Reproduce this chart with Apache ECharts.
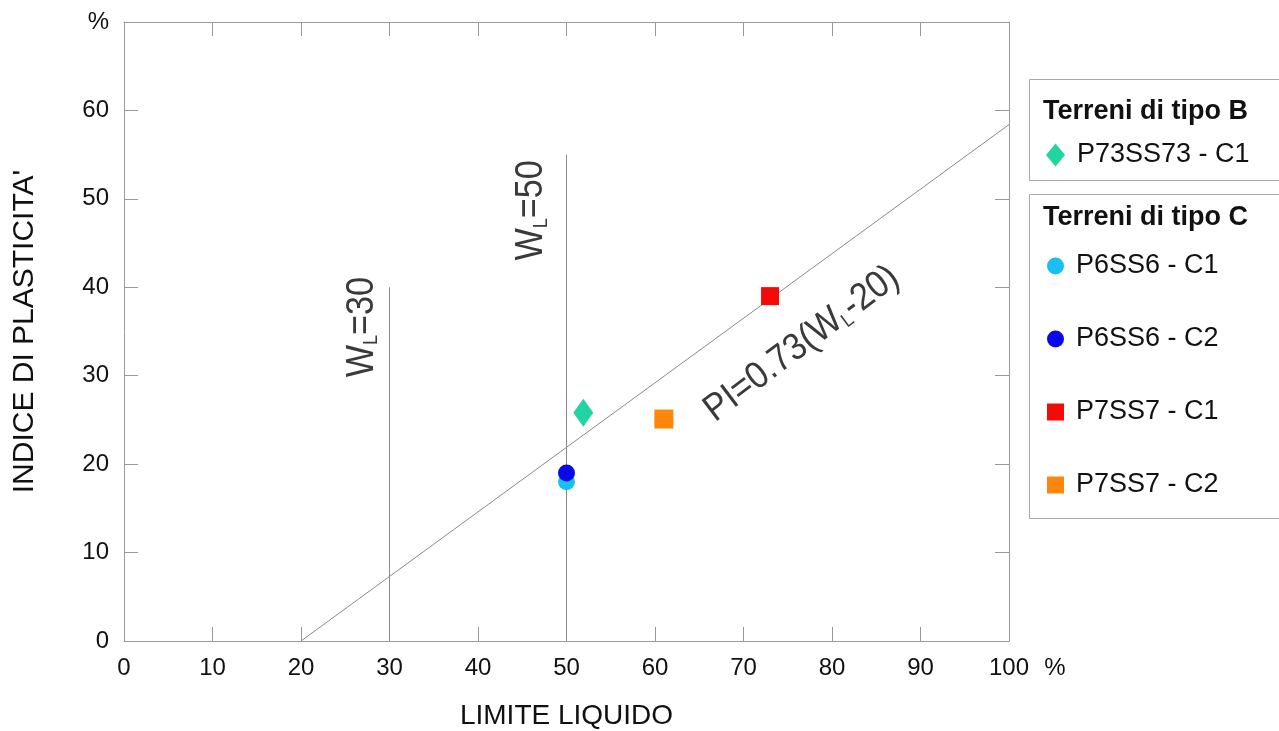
<!DOCTYPE html>
<html>
<head>
<meta charset="utf-8">
<script src="https://cdn.jsdelivr.net/npm/echarts@6/dist/echarts.min.js"></script>
<style>
  html, body { margin: 0; padding: 0; background: #fff; }
  #chart { width: 1279px; height: 731px; }
</style>
</head>
<body>
<div id="chart"></div>
<script>
// Casagrande plasticity chart: liquid limit (WL) vs plasticity index (PI)
const FONT = 'Liberation Sans, Arial, sans-serif';

// Samples
const sampleNames = ['P73SS73 - C1', 'P6SS6 - C1', 'P6SS6 - C2', 'P7SS7 - C1', 'P7SS7 - C2'];
const liquidLimit = [51.9, 50, 50, 73, 61];
const plasticityIndex = [25.8, 18, 19, 39, 25.1];
const sampleSymbols = ['diamond', 'circle', 'circle', 'rect', 'rect'];
const sampleSizes = [[20, 28], 17, 17, 18, 19];
const sampleColors = ['#22D4A2', '#19BFF2', '#0A0AE8', '#F50A0A', '#FF860C'];

// Legend groups
const groupB = ['P73SS73 - C1'];
const groupC = ['P6SS6 - C1', 'P6SS6 - C2', 'P7SS7 - C1', 'P7SS7 - C2'];

// A-line PI = 0.73 (WL - 20), drawn between these WL values
const aLineSlope = 0.73;
const aLineOffset = 20;
const aLineWL = [20, 100];

// Vertical reference lines WL = 30 and WL = 50 and their heights
const wlLimits = [30, 50];
const wlLimitTops = [40, 55];

// Axis ticks
const xTicks = [0, 10, 20, 30, 40, 50, 60, 70, 80, 90, 100];
const yTicks = [0, 10, 20, 30, 40, 50, 60, 70];

// Annotation anchors (data coordinates)
const wl30LabelAt = [27.0, 35.5];
const wl50LabelAt = [46.1, 48.7];
const aLineLabelAt = [76.6, 33.6];

const chart = echarts.init(document.getElementById('chart'), null, { renderer: 'canvas' });

const axisColor = '#999';
const frameAxis = (extra) => Object.assign({
  type: 'value',
  splitLine: { show: false },
  axisLine: { show: true, onZero: false, lineStyle: { color: axisColor, width: 1 } },
  axisTick: { show: true, inside: true, length: 14, lineStyle: { color: axisColor, width: 1 } }
}, extra);

const refLine = (data) => ({
  type: 'line',
  data: data,
  symbol: 'none',
  silent: true,
  z: 1,
  lineStyle: { color: '#8a8a8a', width: 1 },
  xAxisIndex: 0,
  yAxisIndex: 0
});

const series = [];
series.push(refLine(aLineWL.map(wl => [wl, aLineSlope * (wl - aLineOffset)])));
wlLimits.forEach((wl, i) => series.push(refLine([[wl, 0], [wl, wlLimitTops[i]]])));
sampleNames.forEach((name, i) => {
  series.push({
    type: 'scatter',
    name: name,
    data: [[liquidLimit[i], plasticityIndex[i]]],
    symbol: sampleSymbols[i],
    symbolSize: sampleSizes[i],
    itemStyle: { color: sampleColors[i], opacity: 1 },
    z: 3,
    xAxisIndex: 0,
    yAxisIndex: 0
  });
});

const legendText = { fontSize: 27, color: '#111', fontFamily: FONT, lineHeight: 28, padding: [0, 0, 0, 7] };

const option = {
  animation: false,
  backgroundColor: '#fff',
  textStyle: { fontFamily: FONT },
  grid: { left: 124, right: 270, top: 22, bottom: 90, containLabel: false, outerBoundsMode: 'none' },
  xAxis: [
    frameAxis({
      min: xTicks[0], max: xTicks[xTicks.length - 1], interval: 10, position: 'bottom',
      axisLabel: { fontSize: 24, color: '#111', margin: 15, fontFamily: FONT },
      name: 'LIMITE LIQUIDO', nameLocation: 'middle', nameGap: 61,
      nameTextStyle: { fontSize: 28, color: '#111', fontFamily: FONT }
    }),
    frameAxis({
      min: xTicks[0], max: xTicks[xTicks.length - 1], interval: 10, position: 'top',
      axisLabel: { show: false }
    })
  ],
  yAxis: [
    frameAxis({
      min: yTicks[0], max: yTicks[yTicks.length - 1], interval: 10, position: 'left',
      axisLabel: {
        fontSize: 24, color: '#111', margin: 15, fontFamily: FONT,
        formatter: v => (v === yTicks[yTicks.length - 1] ? '%' : String(v))
      },
      name: "INDICE DI PLASTICITA'", nameLocation: 'middle', nameGap: 84,
      nameTextStyle: { fontSize: 30, color: '#111', fontFamily: FONT }
    }),
    frameAxis({
      min: yTicks[0], max: yTicks[yTicks.length - 1], interval: 10, position: 'right',
      axisLabel: { show: false }
    })
  ],
  legend: [
    {
      data: groupB, orient: 'vertical', left: 1046, top: 141, padding: 0,
      itemWidth: 19, itemHeight: 23, itemGap: 0, selectedMode: false,
      textStyle: legendText
    },
    {
      data: groupC, orient: 'vertical', left: 1047, top: 252, padding: 0,
      itemWidth: 17, itemHeight: 17, itemGap: 45, selectedMode: false,
      textStyle: legendText
    }
  ],
  series: series
};

chart.setOption(option);

// Annotations placed through the chart's own coordinate system
const inkColor = '#3a3a3a';
const annoRich = {
  n: { fontSize: 38, fontFamily: FONT, fill: inkColor },
  s: { fontSize: 20, fontFamily: FONT, fill: inkColor, verticalAlign: 'bottom' }
};
const toPx = pt => chart.convertToPixel({ xAxisIndex: 0, yAxisIndex: 0 }, pt);
const annotation = (text, at, angleDeg) => {
  const p = toPx(at);
  return {
    type: 'text', x: p[0], y: p[1], rotation: angleDeg * Math.PI / 180, scaleX: 0.9,
    silent: true, z: 5,
    style: { text: text, rich: annoRich, align: 'center', verticalAlign: 'middle', fill: inkColor }
  };
};
const endPx = toPx([xTicks[xTicks.length - 1], 0]);

chart.setOption({
  graphic: [
    annotation('{n|W}{s|L}{n|=30}', wl30LabelAt, 90),
    annotation('{n|W}{s|L}{n|=50}', wl50LabelAt, 90),
    annotation('{n|PI=0.73(W}{s|L}{n|-20)}', aLineLabelAt, 37),
    {
      type: 'text', x: endPx[0] + 46, y: endPx[1] + 27, silent: true,
      style: { text: '%', font: '24px ' + FONT, fill: '#111', align: 'center', verticalAlign: 'middle' }
    },
    {
      type: 'rect', silent: true,
      shape: { x: 1029.5, y: 79.5, width: 270, height: 101 },
      style: { fill: 'none', stroke: '#aaa', lineWidth: 1 }
    },
    {
      type: 'rect', silent: true,
      shape: { x: 1029.5, y: 194.5, width: 270, height: 324 },
      style: { fill: 'none', stroke: '#aaa', lineWidth: 1 }
    },
    {
      type: 'text', x: 1043, y: 112, silent: true,
      style: { text: 'Terreni di tipo B', font: 'bold 27px ' + FONT, fill: '#111', align: 'left', verticalAlign: 'middle' }
    },
    {
      type: 'text', x: 1043, y: 218, silent: true,
      style: { text: 'Terreni di tipo C', font: 'bold 27px ' + FONT, fill: '#111', align: 'left', verticalAlign: 'middle' }
    }
  ]
});
</script>
</body>
</html>
